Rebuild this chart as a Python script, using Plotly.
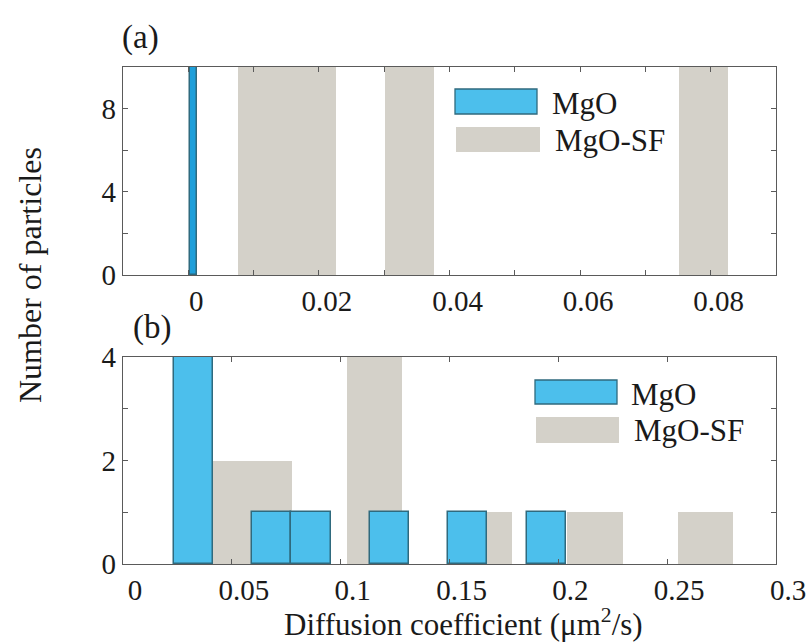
import plotly.graph_objects as go

# ---------------- data ----------------
# Panel (a): histogram bins (left edge, common width) and counts (bars run past the y-limit of 10)
a_mgo_left = [0.0002]
a_mgo_width = 0.0011
a_mgo_counts = [12]

a_sf_left = [0.0076, 0.0151, 0.0301, 0.0751]
a_sf_width = 0.0075
a_sf_counts = [12, 12, 12, 12]

# Panel (b)
b_mgo_left = [0.0234, 0.0594, 0.0774, 0.1134, 0.1494, 0.1854]
b_mgo_width = 0.018
b_mgo_counts = [4, 1, 1, 1, 1, 1]

b_sf_left = [0.0267, 0.0521, 0.1028, 0.1535, 0.2042, 0.2549]
b_sf_width = 0.02535
b_sf_counts = [2, 2, 4, 1, 1, 1]

a_xticks = [0, 0.02, 0.04, 0.06, 0.08]
a_xtext = ["0", "0.02", "0.04", "0.06", "0.08"]
a_yticks = [0, 4, 8]
a_ytext = ["0", "4", "8"]
b_xticks = [0, 0.05, 0.1, 0.15, 0.2, 0.25, 0.3]
b_xtext = ["0", "0.05", "0.1", "0.15", "0.2", "0.25", "0.3"]
b_yticks = [0, 2, 4]
b_ytext = ["0", "2", "4"]

series_names = ["MgO", "MgO-SF"]

# ---------------- styling ----------------
BLUE = "#4CBFEC"
BLUE_EDGE = "#2F6A7E"
GRAY = "#D4D1C9"
AX = "#5a5a5a"
TXT = "#1a1a1a"
FONT = "Liberation Serif"

fig = go.Figure()

def add_bars(left, width, counts, color, edge, ew, xa, ya):
    fig.add_trace(go.Bar(
        x=left, y=counts, width=width, offset=0,
        marker=dict(color=color, line=dict(color=edge, width=ew)),
        xaxis=xa, yaxis=ya, showlegend=False, hoverinfo="x+y"))

# draw MgO-SF first (behind), then MgO on top
add_bars(a_sf_left, a_sf_width, a_sf_counts, GRAY, GRAY, 0, "x", "y")
add_bars(a_mgo_left, a_mgo_width, a_mgo_counts, "#1E9FDA", BLUE_EDGE, 1.5, "x", "y")
add_bars(b_sf_left, b_sf_width, b_sf_counts, GRAY, GRAY, 0, "x2", "y2")
add_bars(b_mgo_left, b_mgo_width, b_mgo_counts, BLUE, BLUE_EDGE, 1.5, "x2", "y2")

axis_common = dict(
    showline=True, linecolor=AX, linewidth=1.3, mirror="ticks",
    ticks="inside", ticklen=5, tickcolor=AX, tickwidth=1.2,
    showgrid=False, zeroline=False,
    tickfont=dict(family=FONT, size=29, color=TXT),
)

def minor(d):
    return dict(dtick=d, ticks="inside", ticklen=5, tickcolor=AX, tickwidth=1.2, showgrid=False)

# plot-area geometry (pixels in the 810x642 page)
L, R, T, B = 123, 34, 67, 78
H = 642 - T - B
W = 810 - L - R
def px(xp):
    return (xp - L) / W
def py(yp):
    return (642 - B - yp) / H

fig.update_layout(
    width=810, height=642,
    margin=dict(l=L, r=R, t=T, b=B, autoexpand=False),
    paper_bgcolor="white", plot_bgcolor="white",
    barmode="overlay", bargap=0,
    font=dict(family=FONT, color=TXT),
    xaxis=dict(domain=[0, 1], anchor="y", range=[-0.01, 0.09],
               tickvals=a_xticks, ticktext=a_xtext, ticklabelshift=8,
               minor=minor(0.01), **axis_common),
    yaxis=dict(domain=[py(275), 1], anchor="x", range=[0, 10],
               tickvals=a_yticks, ticktext=a_ytext, minor=minor(2), **axis_common),
    xaxis2=dict(domain=[0, 1], anchor="y2", range=[0, 0.3],
                tickvals=b_xticks, ticktext=b_xtext, ticklabelshift=12,
                **axis_common),
    yaxis2=dict(domain=[0, py(357)], anchor="x2", range=[0, 4],
                tickvals=b_yticks, ticktext=b_ytext, minor=minor(1), **axis_common),
)

ann = []
# x-axis label (slightly right of centre, as in the reference)
ann.append(dict(text="Diffusion coefficient (\u03bcm<sup>2</sup>/s)", xref="paper", yref="paper",
                x=px(463), y=py(622), xanchor="center", yanchor="middle",
                showarrow=False, font=dict(family=FONT, size=31, color=TXT)))
# y-axis label shared by both panels
ann.append(dict(text="Number of particles", xref="paper", yref="paper",
                x=px(30), y=py(275), xanchor="center", yanchor="middle",
                textangle=-90, showarrow=False, font=dict(family=FONT, size=32, color=TXT)))
# panel labels
ann.append(dict(text="(a)", xref="paper", yref="paper", x=px(140), y=py(38),
                xanchor="center", yanchor="middle", showarrow=False,
                font=dict(family=FONT, size=33, color=TXT)))
ann.append(dict(text="(b)", xref="paper", yref="paper", x=px(152), y=py(327),
                xanchor="center", yanchor="middle", showarrow=False,
                font=dict(family=FONT, size=33, color=TXT)))

# hand-drawn legends (large swatches as in the reference)
shapes = []
def legend(rows):
    for (y0, y1, fill, edge, ew, xs, xe, tx, ty, name) in rows:
        shapes.append(dict(type="rect", xref="paper", yref="paper",
                           x0=px(xs), x1=px(xe), y0=py(y1), y1=py(y0),
                           fillcolor=fill, line=dict(color=edge, width=ew)))
        ann.append(dict(text=name, xref="paper", yref="paper", x=px(tx), y=py(ty),
                        xanchor="left", yanchor="middle", showarrow=False,
                        font=dict(family=FONT, size=31, color=TXT)))

legend([
    (89, 114, BLUE, BLUE_EDGE, 1.3, 455, 537, 550, 103, series_names[0]),
    (127, 152, GRAY, GRAY, 0, 456, 540, 553, 140, series_names[1]),
])
legend([
    (380, 404, BLUE, BLUE_EDGE, 1.3, 535, 617, 629, 394, series_names[0]),
    (417, 443, GRAY, GRAY, 0, 536, 619, 632, 430, series_names[1]),
])

fig.update_layout(annotations=ann, shapes=shapes)
fig.write_html("out.html", config={"displayModeBar": False},
               post_script="document.body.style.margin='0';document.body.style.overflow='hidden';")
